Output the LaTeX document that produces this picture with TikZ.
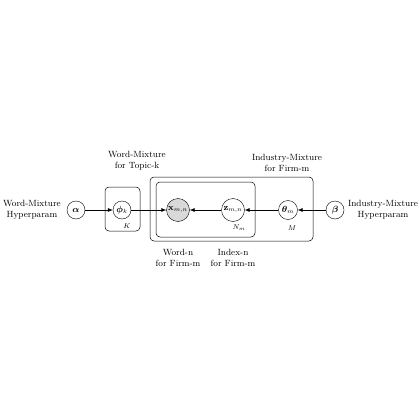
\documentclass[tikz,border=0pt]{standalone}
\usepackage{amsmath}
\usepackage{amssymb}
\usepackage{bm}
\usepackage{tikz}
\usetikzlibrary{arrows.meta}
\usetikzlibrary{positioning}

\tikzset{
  latent/.style={draw, circle, minimum size=18pt, inner sep=0pt, font=\small},
  obs/.style={latent, fill=gray!30, minimum size=23pt},
  edge/.style={-{Latex[length=5pt,width=4pt]}, line width=0.6pt},
  plate/.style={draw, rounded corners=4pt, line width=0.5pt},
  platelabel/.style={font=\scriptsize},
  caption/.style={align=center, font=\small, inner sep=0pt}
}

\begin{document}
\begin{tikzpicture}[x=1pt,y=-1pt]
            \useasboundingbox (0,0) rectangle (420,420);

            % variables
            \node[latent] (alpha) at (76,210) {$\bm{\alpha}$};
            \node[latent] (phi) at (122,210) {$\bm{\phi}_k$};
            \node[obs] (x) at (178,210) {$\mathbf{x}_{m,n}$};
            \node[latent, minimum size=23pt] (z) at (233,210) {$\mathbf{z}_{m,n}$};
            \node[latent, minimum size=19pt] (theta) at (288,210) {$\bm{\theta}_m$};
            \node[latent] (beta) at (335,210) {$\bm{\beta}$};

            % plates
            \draw[plate] (105,187) rectangle (140,231);
            \draw[plate] (156,182) rectangle (255,237);
            \draw[plate] (150,177) rectangle (313,241);
            \node[platelabel] (K) at (127,226) {$K$};
            \node[platelabel] (Nm) at (239,228) {$N_m$};
            \node[platelabel] (M) at (292,228) {$M$};

            % captions
            \node[caption] (lalpha) at (32,210) {Word-Mixture\\Hyperparam};
            \node[caption] (lbeta) at (383,210) {Industry-Mixture\\Hyperparam};
            \node[caption] (lphi) at (137,161) {Word-Mixture\\for Topic-k};
            \node[caption] (ltheta) at (287,163) {Industry-Mixture\\for Firm-m};
            \node[caption] (lx) at (178,258) {Word-n\\for Firm-m};
            \node[caption] (lz) at (233,258) {Index-n\\for Firm-m};

            % edges
            \draw[edge] (alpha) -- (phi);
            \draw[edge] (phi) -- (x);
            \draw[edge] (z) -- (x);
            \draw[edge] (theta) -- (z);
            \draw[edge] (beta) -- (theta);
        \end{tikzpicture}
\end{document}
